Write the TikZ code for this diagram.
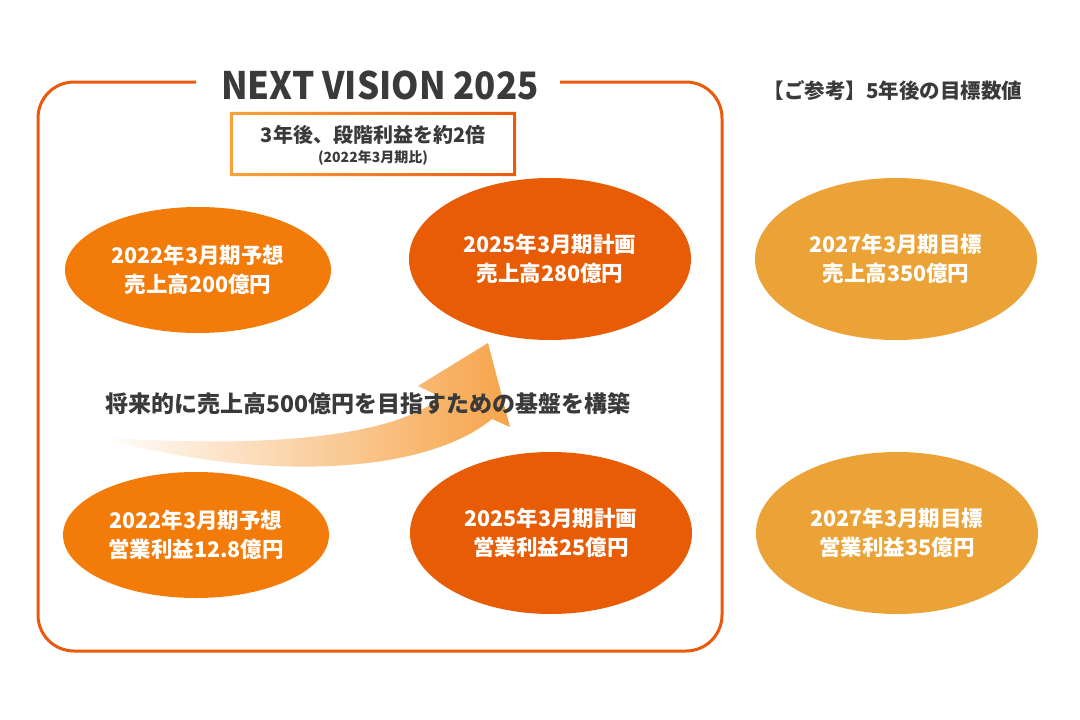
\documentclass[tikz,border=0pt]{standalone}
\usepackage{fontspec}
\setmainfont{Noto Sans CJK JP}
\usetikzlibrary{shapes.geometric}
\definecolor{frameor}{HTML}{EB5A0C}
\definecolor{lightor}{HTML}{F8A23C}
\definecolor{ellA}{HTML}{F27B0A}
\definecolor{ellB}{HTML}{E85C05}
\definecolor{ellC}{HTML}{EBA337}
\definecolor{arrowor}{HTML}{F6A44A}
\definecolor{darktext}{HTML}{3A3A3A}
\tikzset{
  ell/.style={ellipse, inner sep=0pt, text=white, font=\bfseries\fontsize{21.5}{29}\selectfont, align=center},
  smallell/.style={ell, minimum width=266pt, minimum height=126pt},
  bigell/.style={ell, minimum width=282pt, minimum height=162pt},
  heading/.style={text=darktext, font=\bfseries},
}
\begin{document}
\begin{tikzpicture}[x=1pt,y=-1pt]
\useasboundingbox (0,0) rectangle (1080,720);
% main frame with gap for title
\draw[frameor, line width=3pt, rounded corners=36pt]
  (560,82) -- (722,82) -- (722,651) -- (38,651) -- (38,82) -- (196,82);
\node[heading, font=\bfseries\fontsize{36}{40}\selectfont] (title) at (380,85) {\scalebox{0.97}[1.05]{NEXT VISION 2025}};
% subtitle box
\node[minimum width=280pt, minimum height=58pt, inner sep=0pt] (sub) at (373,144) {};
\shade[left color=lightor, right color=frameor, even odd rule]
  ([xshift=-3pt,yshift=3pt]sub.north west) rectangle ([xshift=3pt,yshift=-3pt]sub.south east)
  (sub.north west) rectangle (sub.south east);
\node[heading, font=\bfseries\fontsize{20}{24}\selectfont] (subA) at (373,135) {3年後、段階利益を約2倍};
\node[heading, font=\bfseries\fontsize{14}{16}\selectfont] (subB) at (373,158) {(2022年3月期比)};
% right heading
\node[heading, font=\bfseries\fontsize{20.5}{24}\selectfont] (ref) at (893,91) {【ご参考】5年後の目標数値};
% ellipses
\node[smallell, fill=ellA] (e1) at (198,270) {2022年3月期予想\\売上高200億円};
\node[bigell, fill=ellB] (e2) at (550,259) {2025年3月期計画\\売上高280億円};
\node[bigell, fill=ellC] (e3) at (896,259) {2027年3月期目標\\売上高350億円};
\node[smallell, fill=ellA] (e4) at (196,535) {2022年3月期予想\\営業利益12.8億円};
\node[bigell, fill=ellB] (e5) at (551,533) {2025年3月期計画\\営業利益25億円};
\node[bigell, fill=ellC] (e6) at (897,533) {2027年3月期目標\\営業利益35億円};
% curved arrow
\coordinate (tail) at (98,437);
\coordinate (tip) at (488,343);
\shade[left color=white, right color=arrowor]
  (tail) .. controls (250,448) and (390,440) .. (441,397)
  -- (418,386) -- (tip) -- (510,427) -- (492,419)
  .. controls (420,478) and (250,480) .. (tail) -- cycle;
\node[heading, font=\bfseries\fontsize{23}{26}\selectfont] (msg) at (368,404) {将来的に売上高500億円を目指すための基盤を構築};
\end{tikzpicture}
\end{document}
